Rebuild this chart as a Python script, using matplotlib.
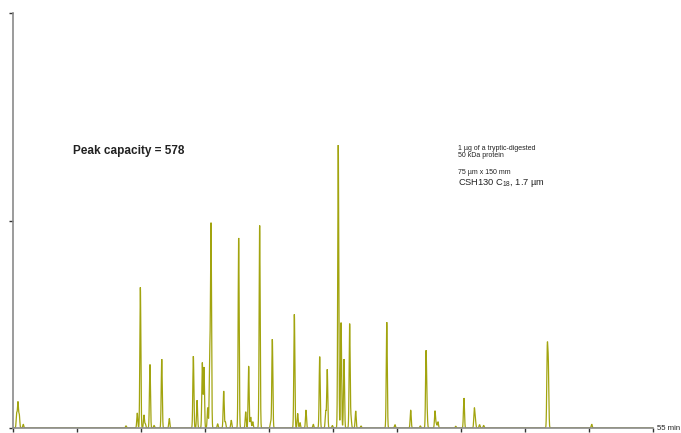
import numpy as np
import matplotlib
matplotlib.use('Agg')
import matplotlib.pyplot as plt

plt.rcParams['font.family'] = ['Liberation Sans', 'DejaVu Sans']
plt.rcParams['mathtext.fontset'] = 'custom'
plt.rcParams['mathtext.rm'] = 'Liberation Sans'

# retention time (min) and relative height of each peak
peak_times = [5.29, 5.39, 5.49, 5.80, 13.83, 14.71, 14.95, 15.23, 15.34, 15.70,
              16.02, 16.62, 17.21, 19.09, 19.38, 19.79, 19.92, 20.21, 20.37, 20.47,
              20.99, 21.46, 21.59, 22.05, 22.63, 23.18, 23.41, 23.57, 23.73, 24.27,
              25.13, 25.26, 26.98, 27.24, 27.42, 27.89, 28.46, 28.96, 29.43, 29.55,
              29.95, 30.41, 30.63, 30.86, 31.30, 31.41, 31.77, 32.19, 34.20, 34.84,
              36.07, 36.82, 37.27, 37.34, 37.97, 38.07, 38.20, 39.59, 40.23, 41.04,
              41.12, 41.45, 41.77, 46.74, 46.82, 50.21]
peak_heights = [0.035, 0.061, 0.031, 0.009, 0.005, 0.036, 0.339, 0.031, 0.010, 0.153,
                0.006, 0.166, 0.023, 0.173, 0.067, 0.157, 0.146, 0.049, 0.168, 0.487,
                0.010, 0.089, 0.015, 0.019, 0.458, 0.039, 0.149, 0.026, 0.015, 0.488,
                0.015, 0.214, 0.274, 0.035, 0.013, 0.043, 0.009, 0.172, 0.041, 0.141,
                0.006, 0.682, 0.254, 0.166, 0.251, 0.024, 0.041, 0.005, 0.255, 0.008,
                0.043, 0.005, 0.178, 0.040, 0.041, 0.010, 0.015, 0.004, 0.072, 0.046,
                0.020, 0.008, 0.006, 0.182, 0.144, 0.009]

x_ticks = [5, 10, 15, 20, 25, 30, 35, 40, 45, 50, 55]
y_ticks = [0, 0.5, 1.0]

# build the trace as a sum of narrow gaussian peaks
t = np.linspace(5, 55, 25000)
signal = np.zeros_like(t)
sigma = 0.04
for rt, h in zip(peak_times, peak_heights):
    signal += h * np.exp(-0.5 * ((t - rt) / sigma) ** 2)

fig = plt.figure(figsize=(6.81, 4.33), dpi=100)
ax = fig.add_axes([13/681, 5/433, 640/681, 415/433])
ax.plot(t, signal, color='#a2a40f', lw=0.9, solid_joinstyle='miter')

ax.set_xlim(5, 55)
ax.set_ylim(0, 1.0)
ax.set_xticks(x_ticks)
ax.set_yticks(y_ticks)
ax.set_xticklabels([])
ax.set_yticklabels([])
ax.tick_params(axis='both', direction='out', length=3, width=1, color='#333333')
for s in ['top', 'right']:
    ax.spines[s].set_visible(False)
for s in ['left', 'bottom']:
    ax.spines[s].set_color('#8a8a8a')
    ax.spines[s].set_linewidth(1.2)
ax.set_zorder(1)

fig.text(657/681, 1 - 428/433, '55 min', fontsize=5.6, va='center', ha='left',
         color='#222222')

fig.text(73/681, 1 - 151/433, 'Peak capacity = 578', fontsize=8.5,
         fontweight='bold', va='center', ha='left', color='#222222')

fig.text(458/681, 1 - 148/433, '1 µg of a tryptic-digested', fontsize=5.0,
         va='center', ha='left', color='#222222')
fig.text(458/681, 1 - 155.5/433, '50 kDa protein', fontsize=5.0,
         va='center', ha='left', color='#222222')
fig.text(458/681, 1 - 172/433, '75 µm x 150 mm', fontsize=5.0,
         va='center', ha='left', color='#222222')
fig.text(458/681, 1 - 183/433, r'CSH130 C$_{18}$, 1.7 µm', fontsize=6.7,
         va='center', ha='left', color='#222222')

fig.savefig('out.png', dpi=100)
